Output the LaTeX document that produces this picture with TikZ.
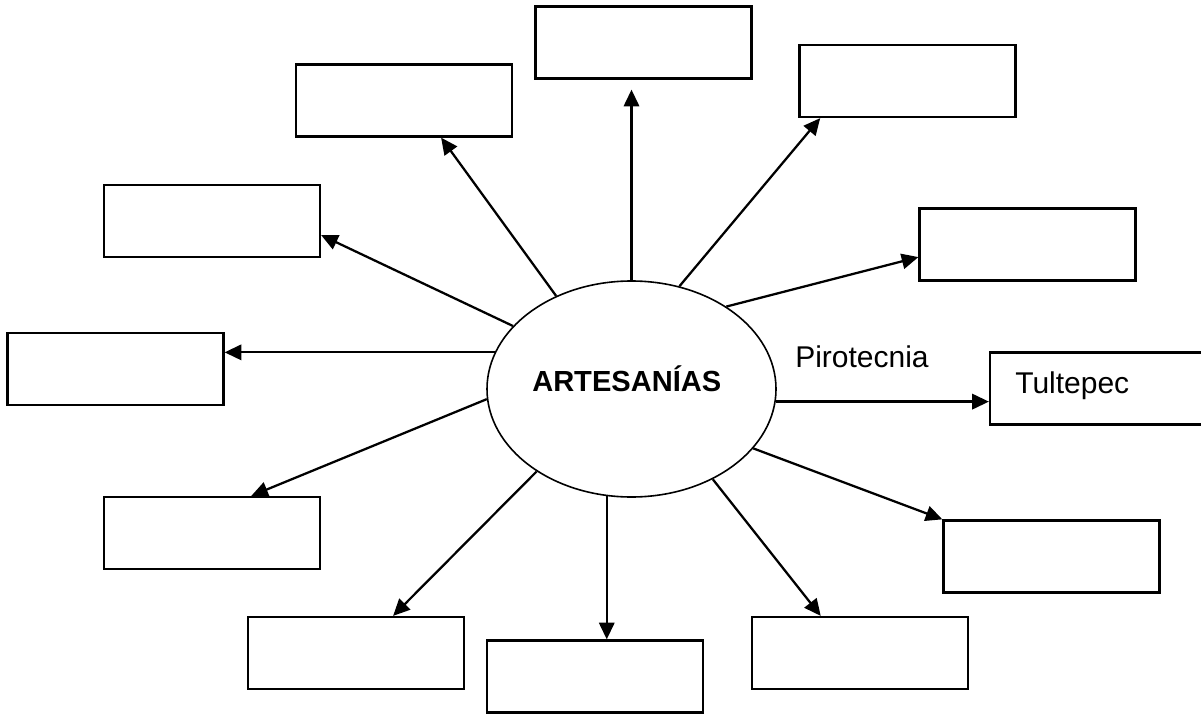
\documentclass[tikz,border=0pt]{standalone}
\usepackage{fontspec}
\setmainfont{Liberation Sans}
\usetikzlibrary{arrows.meta,calc,shapes.geometric}
\begin{document}
\begin{tikzpicture}[x=0.75pt,y=-0.75pt,
  box/.style={draw,line width=1.7pt,minimum width=162pt,minimum height=54pt,inner sep=0pt},
  conn/.style={line width=1.7pt,-{Triangle[length=12.5pt,width=11.5pt]}},
  lbl/.style={inner sep=0pt,anchor=base west,font=\fontsize{22.5pt}{27pt}\selectfont}]
\useasboundingbox (0,0) rectangle (1201,713);
\node[draw,ellipse,line width=1.2pt,minimum width=216.75pt,minimum height=162pt,inner sep=0pt] (e) at (631.5,389) {};
\node[inner sep=0pt,anchor=base west,font=\fontsize{21.8pt}{26pt}\selectfont\bfseries] (t) at (532,391) {ARTESANÍAS};
% boxes
\node[box] (b1) at (643.5,42.5) {};
\node[box] (b2) at (404,100.5) {};
\node[box] (b3) at (907.5,81) {};
\node[box] (b4) at (212,221) {};
\node[box] (b5) at (1027.5,244.5) {};
\node[box] (b6) at (115.5,369) {};
\node[box] (b7) at (1098,388.5) {};
\node[box] (b8) at (212,533) {};
\node[box] (b9) at (1051.5,556.5) {};
\node[box] (b10) at (356,653) {};
\node[box] (b11) at (595,676.5) {};
\node[box] (b12) at (860,653) {};
% labels
\node[lbl] (p) at (795,367) {Pirotecnia};
\node[lbl] (tu) at (1015,393) {Tultepec};
% connectors
\draw[conn,shorten >=7.5pt] (e.90) -- (e.90 |- b1.south);
\draw[conn] (e.129.7) -- ($(b2.south west)!0.67!(b2.south east)$);
\draw[conn] (e.65.8) -- ($(b3.south west)!0.10!(b3.south east)$);
\draw[conn] (e.152.96) -- ($(b4.north east)!0.69!(b4.south east)$);
\draw[conn] (e.41.67) -- ($(b5.north west)!0.67!(b5.south west)$);
\draw[conn] (e.165.9) -- (e.165.9 -| b6.east);
\draw[conn] (e.-5.14) -- (e.-5.14 -| b7.west);
\draw[conn] (e.184.8) -- ($(b8.north west)!0.68!(b8.north east)$);
\draw[conn] (e.-26.47) -- (b9.north west);
\draw[conn] (e.221.6) -- ($(b10.north west)!0.67!(b10.north east)$);
\draw[conn] (e.257.7) -- (e.257.7 |- b11.north);
\draw[conn] (e.-48.86) -- ($(b12.north west)!0.32!(b12.north east)$);
\end{tikzpicture}
\end{document}
